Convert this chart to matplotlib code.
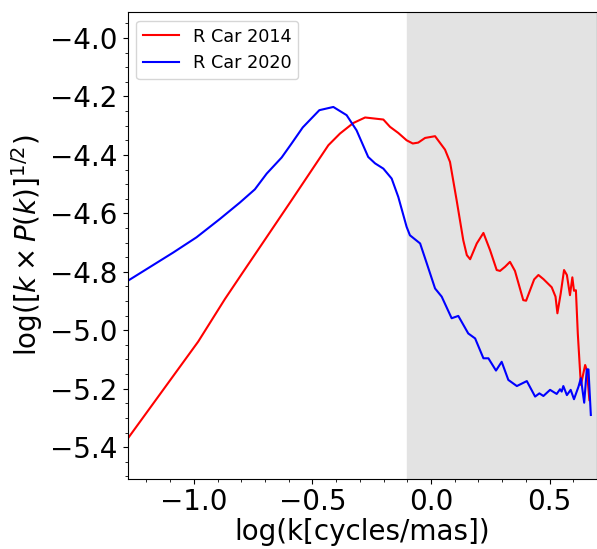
import matplotlib
matplotlib.use('Agg')
import matplotlib.pyplot as plt
from matplotlib.ticker import MultipleLocator

# R Car 2014 power spectrum
x14 = [-1.281, -0.982, -0.869, -0.792, -0.722, -0.588, -0.433, -0.384, -0.328,
       -0.278, -0.201, -0.173, -0.138, -0.103, -0.077, -0.054, -0.025, 0.017,
       0.059, 0.080, 0.108, 0.136, 0.151, 0.165, 0.193, 0.221, 0.249, 0.277,
       0.291, 0.312, 0.333, 0.354, 0.389, 0.401, 0.435, 0.453, 0.474, 0.509,
       0.525, 0.533, 0.547, 0.561, 0.573, 0.586, 0.596, 0.603, 0.611, 0.619,
       0.632, 0.650, 0.657, 0.668]
y14 = [-5.373, -5.039, -4.893, -4.800, -4.716, -4.555, -4.367, -4.327, -4.291,
       -4.272, -4.279, -4.304, -4.325, -4.350, -4.361, -4.358, -4.342, -4.336,
       -4.382, -4.424, -4.555, -4.692, -4.743, -4.757, -4.703, -4.667, -4.726,
       -4.794, -4.797, -4.783, -4.766, -4.797, -4.897, -4.899, -4.826, -4.811,
       -4.825, -4.853, -4.885, -4.942, -4.874, -4.794, -4.811, -4.880, -4.819,
       -4.865, -4.863, -5.011, -5.187, -5.119, -5.136, -5.239]

# R Car 2020 power spectrum
x20 = [-1.281, -1.087, -0.989, -0.890, -0.806, -0.743, -0.693, -0.630, -0.588,
       -0.541, -0.471, -0.412, -0.356, -0.314, -0.265, -0.236, -0.201, -0.166,
       -0.138, -0.103, -0.089, -0.046, -0.018, 0.017, 0.045, 0.087, 0.115,
       0.157, 0.186, 0.221, 0.242, 0.274, 0.298, 0.326, 0.362, 0.404, 0.439,
       0.457, 0.474, 0.502, 0.530, 0.544, 0.551, 0.558, 0.573, 0.589, 0.603,
       0.622, 0.632, 0.646, 0.657, 0.664, 0.674]
y20 = [-4.832, -4.734, -4.682, -4.619, -4.563, -4.518, -4.464, -4.409, -4.361,
       -4.306, -4.247, -4.236, -4.264, -4.316, -4.407, -4.429, -4.447, -4.481,
       -4.544, -4.646, -4.675, -4.703, -4.771, -4.857, -4.885, -4.959, -4.951,
       -5.011, -5.028, -5.096, -5.096, -5.138, -5.108, -5.170, -5.191, -5.174,
       -5.227, -5.216, -5.225, -5.204, -5.218, -5.202, -5.210, -5.191, -5.222,
       -5.204, -5.236, -5.193, -5.164, -5.248, -5.134, -5.134, -5.290]

shade = (-0.1, 0.7)   # excluded high-frequency range

fig = plt.figure(figsize=(5.97, 5.49), dpi=100)
ax = fig.add_axes([0.2136, 0.127, 0.7864, 0.8517])
ax.axvspan(shade[0], shade[1], color='#e3e3e3', zorder=0)
ax.plot(x14, y14, color='red', lw=1.5, label='R Car 2014')
ax.plot(x20, y20, color='blue', lw=1.5, label='R Car 2020')

ax.set_xlim(-1.28, 0.70)
ax.set_ylim(-5.51, -3.91)
ax.xaxis.set_major_locator(MultipleLocator(0.5))
ax.xaxis.set_minor_locator(MultipleLocator(0.1))
ax.yaxis.set_major_locator(MultipleLocator(0.2))
ax.yaxis.set_minor_locator(MultipleLocator(0.05))
ax.tick_params(labelsize=20)
ax.tick_params(axis='x', pad=3)
ax.set_xlabel('log(k[cycles/mas])', fontsize=20, labelpad=1)
ax.set_ylabel(r'log([$k \times P(k)$]$^{1/2}$)', fontsize=20)
ax.legend(loc='upper left', fontsize=12.7)

fig.savefig('out.png', dpi=100)
